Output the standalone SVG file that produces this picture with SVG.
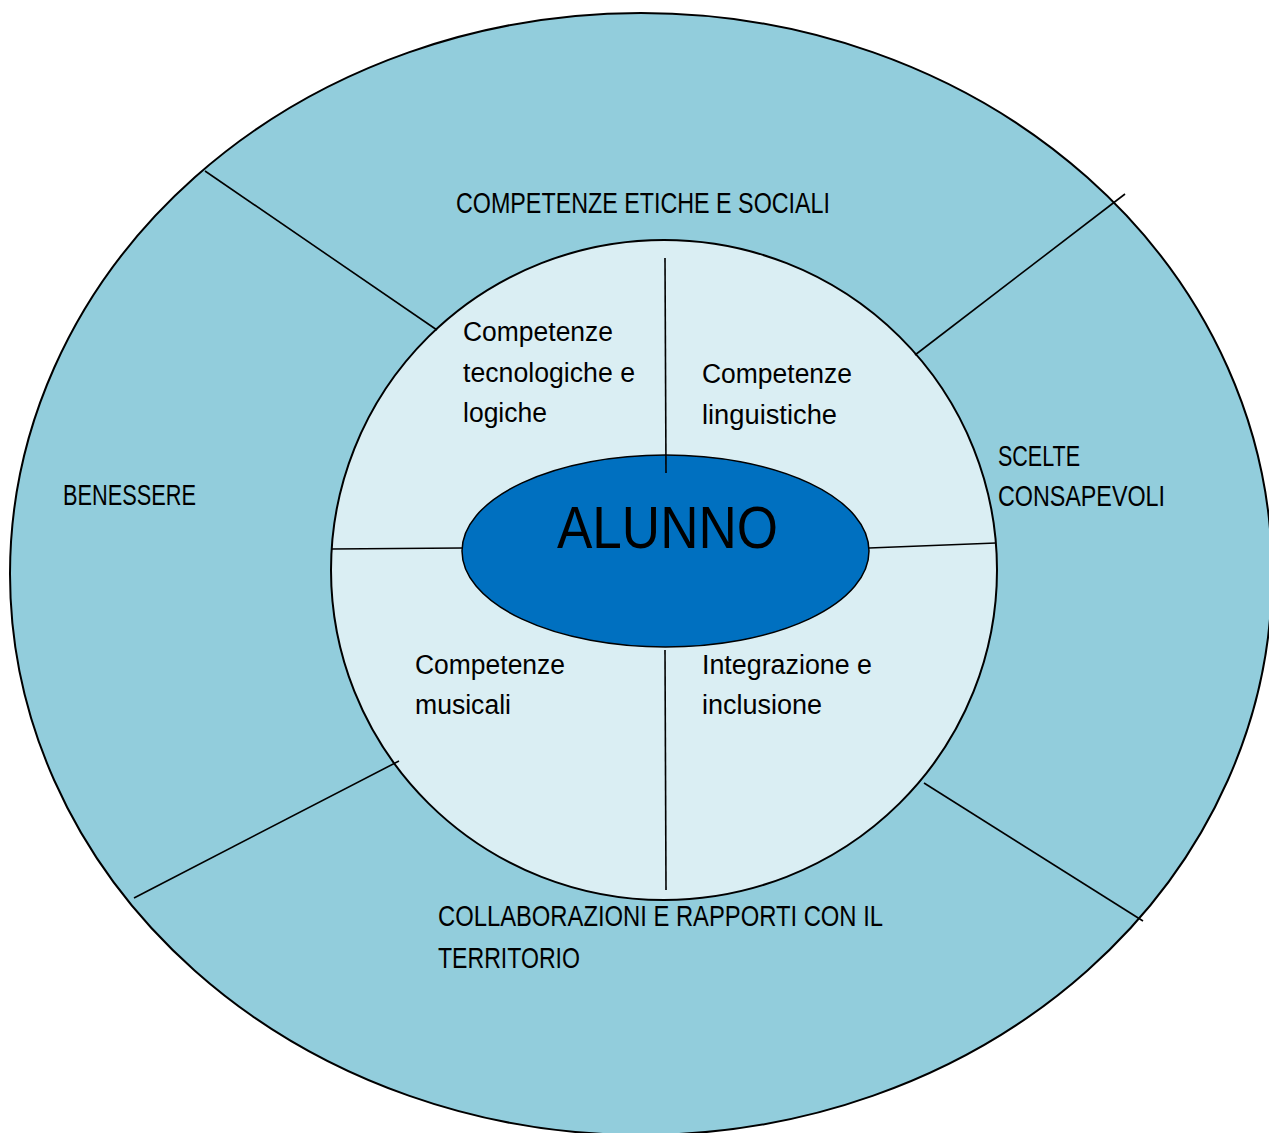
<svg xmlns="http://www.w3.org/2000/svg" width="1269" height="1133" viewBox="0 0 1269 1133">
  <style>
    .outer { fill: #92CDDC; stroke: #000; stroke-width: 2; }
    .inner { fill: #DAEEF3; stroke: #000; stroke-width: 2; }
    .core { fill: #0070C0; stroke: #000; stroke-width: 1.5; }
    .div { stroke: #000; stroke-width: 1.6; fill: none; }
    .cap { font-family: "Liberation Sans", Arial, sans-serif; font-size: 29px; fill: #000; }
    .low { font-family: "Liberation Sans", Arial, sans-serif; font-size: 27px; fill: #000; }
    .title { font-family: "Liberation Sans", Arial, sans-serif; font-size: 60px; fill: #000; }
  </style>
  <rect width="1269" height="1133" fill="#ffffff"/>

  <!-- outer ring -->
  <g id="outer-ring">
    <ellipse class="outer" cx="641" cy="574" rx="631" ry="561"/>
  </g>

  <!-- inner disc -->
  <g id="inner-disc">
    <ellipse class="inner" cx="664" cy="570" rx="333" ry="330"/>
  </g>

  <!-- centre -->
  <g id="alunno">
    <ellipse class="core" cx="665.5" cy="551" rx="203.5" ry="96"/>
    <text class="title" x="557" y="548" textLength="221" lengthAdjust="spacingAndGlyphs">ALUNNO</text>
  </g>

  <!-- dividing lines -->
  <g id="connectors">
    <line class="div" x1="205" y1="171" x2="437" y2="330"/>
    <line class="div" x1="915" y1="355" x2="1125" y2="194"/>
    <line class="div" x1="134" y1="898" x2="399" y2="761"/>
    <line class="div" x1="924" y1="783" x2="1143" y2="921"/>
    <line class="div" x1="665" y1="258" x2="666" y2="473"/>
    <line class="div" x1="665" y1="650" x2="666" y2="890"/>
    <line class="div" x1="331" y1="549" x2="462" y2="548"/>
    <line class="div" x1="869" y1="548" x2="996" y2="543"/>
  </g>

  <!-- outer ring labels -->
  <g id="etiche-sociali">
    <text class="cap" x="456" y="213" textLength="374" lengthAdjust="spacingAndGlyphs">COMPETENZE ETICHE E SOCIALI</text>
  </g>
  <g id="benessere">
    <text class="cap" x="63" y="505" textLength="133" lengthAdjust="spacingAndGlyphs">BENESSERE</text>
  </g>
  <g id="scelte-consapevoli">
    <text class="cap" x="998" y="466" textLength="82" lengthAdjust="spacingAndGlyphs">SCELTE</text>
    <text class="cap" x="998" y="506" textLength="167" lengthAdjust="spacingAndGlyphs">CONSAPEVOLI</text>
  </g>
  <g id="collaborazioni">
    <text class="cap" x="438" y="926" textLength="445" lengthAdjust="spacingAndGlyphs">COLLABORAZIONI E RAPPORTI CON IL</text>
    <text class="cap" x="438" y="968" textLength="142" lengthAdjust="spacingAndGlyphs">TERRITORIO</text>
  </g>

  <!-- inner disc labels -->
  <g id="tecnologiche">
    <text class="low" x="463" y="341" textLength="150" lengthAdjust="spacingAndGlyphs">Competenze</text>
    <text class="low" x="463" y="382" textLength="172" lengthAdjust="spacingAndGlyphs">tecnologiche e</text>
    <text class="low" x="463" y="422" textLength="84" lengthAdjust="spacingAndGlyphs">logiche</text>
  </g>
  <g id="linguistiche">
    <text class="low" x="702" y="383" textLength="150" lengthAdjust="spacingAndGlyphs">Competenze</text>
    <text class="low" x="702" y="424" textLength="135" lengthAdjust="spacingAndGlyphs">linguistiche</text>
  </g>
  <g id="musicali">
    <text class="low" x="415" y="674" textLength="150" lengthAdjust="spacingAndGlyphs">Competenze</text>
    <text class="low" x="415" y="714" textLength="96" lengthAdjust="spacingAndGlyphs">musicali</text>
  </g>
  <g id="integrazione">
    <text class="low" x="702" y="674" textLength="170" lengthAdjust="spacingAndGlyphs">Integrazione e</text>
    <text class="low" x="702" y="714" textLength="120" lengthAdjust="spacingAndGlyphs">inclusione</text>
  </g>
</svg>
